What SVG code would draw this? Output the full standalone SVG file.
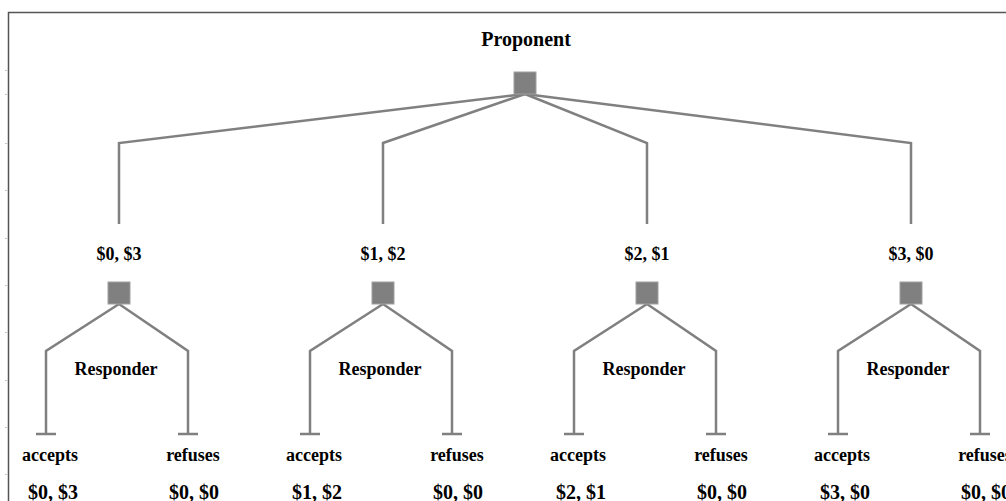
<svg xmlns="http://www.w3.org/2000/svg" width="1006" height="501" viewBox="0 0 1006 501">
  <style>
    .edge { fill: none; stroke: #808080; stroke-width: 2.5; stroke-linejoin: miter; }
    .node { fill: #808080; stroke: #a0a0a0; stroke-width: 1; }
    .lbl { font-family: "Liberation Serif", "Times New Roman", serif; font-weight: bold; fill: #000; text-anchor: middle; }
    .s18 { font-size: 18px; }
    .s20 { font-size: 20px; }
    .frame { fill: none; stroke: #555; stroke-width: 1.5; }
    .tick { stroke: #c8c8c8; stroke-width: 1; }
  </style>

  <rect width="1006" height="501" fill="#fff"/>

  <!-- frame -->
  <g id="frame">
    <path class="frame" d="M1006,12.5 H8.5 V501"/>
    <path class="tick" d="M5,70.5 H8 M5,94.5 H8 M5,143.5 H8 M5,190.5 H8 M5,238.5 H8 M5,285.5 H8 M5,332.5 H8 M5,380.5 H8 M5,427.5 H8 M5,474.5 H8"/>
  </g>

  <!-- connectors -->
  <g id="connectors">
    <path class="edge" d="M525,94 L119,143 V224"/>
    <path class="edge" d="M525,94 L383,143 V224"/>
    <path class="edge" d="M525,94 L647,143 V224"/>
    <path class="edge" d="M525,94 L911,143 V224"/>

    <path class="edge" d="M119,304 L46,351 V434 M36,434 H56"/>
    <path class="edge" d="M119,304 L188,351 V434 M178,434 H198"/>
    <path class="edge" d="M383,304 L310,351 V434 M300,434 H320"/>
    <path class="edge" d="M383,304 L452,351 V434 M442,434 H462"/>
    <path class="edge" d="M647,304 L574,351 V434 M564,434 H584"/>
    <path class="edge" d="M647,304 L716,351 V434 M706,434 H726"/>
    <path class="edge" d="M911,304 L838,351 V434 M828,434 H848"/>
    <path class="edge" d="M911,304 L980,351 V434 M970,434 H990"/>
  </g>

  <!-- proponent decision node -->
  <g id="proponent">
    <text class="lbl s20" x="526" y="46">Proponent</text>
    <rect class="node" x="514" y="72" width="22" height="22"/>
  </g>

  <!-- responder nodes, one per offer -->
  <g id="offer-0-3">
    <text class="lbl s18" x="119" y="260">$0, $3</text>
    <rect class="node" x="108" y="282" width="22" height="22"/>
    <text class="lbl s18" x="116" y="375">Responder</text>
    <text class="lbl s18" x="50" y="461">accepts</text>
    <text class="lbl s18" x="193" y="461">refuses</text>
    <text class="lbl s20" x="53" y="499">$0, $3</text>
    <text class="lbl s20" x="194" y="499">$0, $0</text>
  </g>

  <g id="offer-1-2">
    <text class="lbl s18" x="383" y="260">$1, $2</text>
    <rect class="node" x="372" y="282" width="22" height="22"/>
    <text class="lbl s18" x="380" y="375">Responder</text>
    <text class="lbl s18" x="314" y="461">accepts</text>
    <text class="lbl s18" x="457" y="461">refuses</text>
    <text class="lbl s20" x="317" y="499">$1, $2</text>
    <text class="lbl s20" x="458" y="499">$0, $0</text>
  </g>

  <g id="offer-2-1">
    <text class="lbl s18" x="647" y="260">$2, $1</text>
    <rect class="node" x="636" y="282" width="22" height="22"/>
    <text class="lbl s18" x="644" y="375">Responder</text>
    <text class="lbl s18" x="578" y="461">accepts</text>
    <text class="lbl s18" x="721" y="461">refuses</text>
    <text class="lbl s20" x="581" y="499">$2, $1</text>
    <text class="lbl s20" x="722" y="499">$0, $0</text>
  </g>

  <g id="offer-3-0">
    <text class="lbl s18" x="911" y="260">$3, $0</text>
    <rect class="node" x="900" y="282" width="22" height="22"/>
    <text class="lbl s18" x="908" y="375">Responder</text>
    <text class="lbl s18" x="842" y="461">accepts</text>
    <text class="lbl s18" x="985" y="461">refuses</text>
    <text class="lbl s20" x="845" y="499">$3, $0</text>
    <text class="lbl s20" x="986" y="499">$0, $0</text>
  </g>
</svg>
